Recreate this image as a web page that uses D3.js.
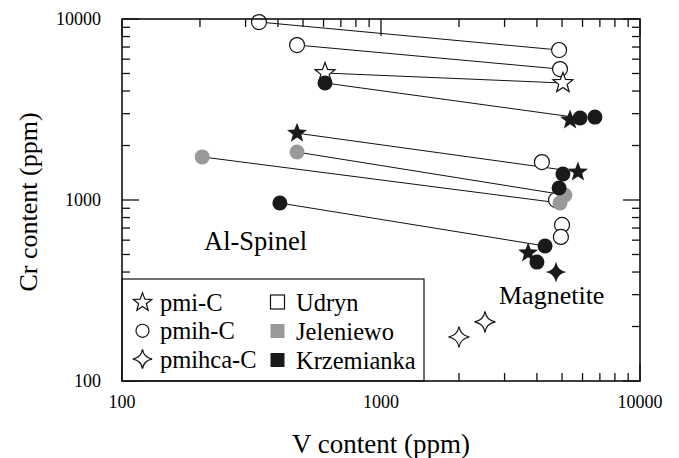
<!DOCTYPE html>
<html lang="en">
<head>
<meta charset="UTF-8">
<title>Cr vs V</title>
<script src="https://d3js.org/d3.v7.min.js"></script>
<style>
  body { margin: 0; background: white; }
  svg { display: block; font-family: "Liberation Serif", "Times New Roman", serif; }
</style>
</head>
<body>
<svg id="chart" width="679" height="458"></svg>
<script>
// V (ppm), Cr (ppm) pairs
const udrynCircles = [[338, 9620], [474, 7180], [4870, 6740], [4910, 5290],
                      [4180, 1620], [4740, 1000], [5000, 728], [4950, 625]];
const udrynStars = [[608, 5030], [5040, 4430]];
const udrynDiamonds = [[2520, 212], [2000, 175]];
const jeleniewoCircles = [[474, 1840], [204, 1730], [5130, 1066], [4910, 962]];
const krzemCircles = [[608, 4430], [5870, 2840], [6700, 2870], [5040, 1393],
                      [4870, 1165], [407, 962], [4300, 557], [4000, 454]];
const krzemStars = [[474, 2340], [5370, 2770], [5760, 1428], [3700, 510]];
const krzemDiamonds = [[4740, 400]];

// tie lines: [V1, Cr1, V2, Cr2]
const tieLines = [
  [338, 9620, 4870, 6740],
  [474, 7180, 4910, 5290],
  [608, 5030, 5040, 4430],
  [608, 4430, 5870, 2840],
  [474, 2340, 5760, 1428],
  [474, 1840, 5130, 1066],
  [204, 1730, 4910, 962],
  [407, 962, 4300, 557]
];

const xTickLabels = [100, 1000, 10000];
const yTickLabels = [100, 1000, 10000];
const shapeLegend = [["star", "pmi-C"], ["circle", "pmih-C"], ["diamond", "pmihca-C"]];
const siteLegend = [["Udryn", "#fff"], ["Jeleniewo", "#999"], ["Krzemianka", "#1a1a1a"]];

const svg = d3.select("#chart");
const margin = {left: 122, right: 39, top: 19, bottom: 77};
const W = 679, H = 458;

const x = d3.scaleLog().domain([100, 10000]).range([margin.left, W - margin.right]);
const y = d3.scaleLog().domain([100, 10000]).range([H - margin.bottom, margin.top]);

// marker shapes
function starPath(R) {
  const r = R * 0.42, pts = [];
  for (let i = 0; i < 10; i++) {
    const a = -Math.PI / 2 + i * Math.PI / 5, rr = i % 2 ? r : R;
    pts.push([rr * Math.cos(a), rr * Math.sin(a)]);
  }
  return "M" + pts.map(p => p[0].toFixed(2) + "," + p[1].toFixed(2)).join("L") + "Z";
}
function diamondPath(R) {
  const c = R * 0.14;
  return `M0,${-R}Q${c},${-c} ${R},0Q${c},${c} 0,${R}Q${-c},${c} ${-R},0Q${-c},${-c} 0,${-R}Z`;
}
function circlePath(r) {
  return d3.arc()({innerRadius: 0, outerRadius: r, startAngle: 0, endAngle: 2 * Math.PI});
}
const shapes = {
  star: s => starPath(10.5 * s),
  circle: s => circlePath(7.5 * s),
  diamond: s => diamondPath(10.5 * s)
};

// frame ticks
const g = svg.append("g");
const majors = [100, 1000, 10000];
const minors = [];
[100, 1000].forEach(d => { for (let k = 2; k <= 9; k++) minors.push(d * k); });

const tickLen = v => majors.includes(v) ? 17 : 8;
const y0 = y.range()[0], y1 = y.range()[1], x0 = x.range()[0], x1 = x.range()[1];

majors.concat(minors).forEach(v => {
  g.append("line").attr("x1", x(v)).attr("x2", x(v)).attr("y1", y0).attr("y2", y0 - tickLen(v));
  g.append("line").attr("x1", x(v)).attr("x2", x(v)).attr("y1", y1).attr("y2", y1 + tickLen(v));
  g.append("line").attr("y1", y(v)).attr("y2", y(v)).attr("x1", x0).attr("x2", x0 + tickLen(v));
  g.append("line").attr("y1", y(v)).attr("y2", y(v)).attr("x1", x1).attr("x2", x1 - tickLen(v));
});
g.selectAll("line").attr("stroke", "#111").attr("stroke-width", 1.3);

// tie lines
svg.append("g").selectAll("line").data(tieLines).join("line")
  .attr("x1", d => x(d[0])).attr("y1", d => y(d[1]))
  .attr("x2", d => x(d[2])).attr("y2", d => y(d[3]))
  .attr("stroke", "#111").attr("stroke-width", 1);

// data markers
function plot(data, shape, fill) {
  svg.append("g").selectAll("path").data(data).join("path")
    .attr("d", shapes[shape](1))
    .attr("transform", d => `translate(${x(d[0])},${y(d[1])})`)
    .attr("fill", fill)
    .attr("stroke", fill === "#fff" ? "#111" : "none")
    .attr("stroke-width", 1.2);
}
plot(udrynCircles, "circle", "#fff");
plot(udrynStars, "star", "#fff");
plot(udrynDiamonds, "diamond", "#fff");
plot(jeleniewoCircles, "circle", "#999");
plot(krzemCircles, "circle", "#1a1a1a");
plot(krzemStars, "star", "#1a1a1a");
plot(krzemDiamonds, "diamond", "#1a1a1a");

// legend box
const lg = svg.append("g");
lg.append("rect").attr("x", x0).attr("y", 279).attr("width", 424 - x0).attr("height", y0 - 279)
  .attr("fill", "#fff").attr("stroke", "#111").attr("stroke-width", 1.2);
shapeLegend.forEach((d, i) => {
  const cy = 302.5 + i * 28.3;
  lg.append("path").attr("d", shapes[d[0]](d[0] === "circle" ? 0.87 : 0.92))
    .attr("transform", `translate(142.5,${cy})`)
    .attr("fill", "#fff").attr("stroke", "#111").attr("stroke-width", 1.2);
  lg.append("text").attr("x", 160).attr("y", cy).attr("dy", "0.35em")
    .attr("font-size", 24.5).text(d[1]);
});
siteLegend.forEach((d, i) => {
  const cy = 302 + i * 29;
  lg.append("rect").attr("x", 270.5).attr("y", cy - 7).attr("width", 14).attr("height", 14)
    .attr("fill", d[1]).attr("stroke", d[1] === "#fff" ? "#111" : "none").attr("stroke-width", 1.2);
  lg.append("text").attr("x", 296).attr("y", cy).attr("dy", "0.35em")
    .attr("font-size", 24.5).text(d[0]);
});

// frame
svg.append("rect").attr("x", x0).attr("y", y1).attr("width", x1 - x0).attr("height", y0 - y1)
  .attr("fill", "none").attr("stroke", "#111").attr("stroke-width", 1.6);

// tick labels
svg.append("g").selectAll("text").data(xTickLabels).join("text")
  .attr("x", d => x(d)).attr("y", 408).attr("text-anchor", "middle")
  .attr("font-size", 18).text(d => d);
svg.append("g").selectAll("text").data(yTickLabels).join("text")
  .attr("x", 101).attr("y", d => y(d)).attr("dy", "0.35em").attr("text-anchor", "end")
  .attr("font-size", 18).text(d => d);

// axis titles
svg.append("text").attr("x", x(1000)).attr("y", 453).attr("text-anchor", "middle")
  .attr("font-size", 27).text("V content (ppm)");
svg.append("text").attr("transform", `translate(37,202) rotate(-90)`)
  .attr("text-anchor", "middle").attr("font-size", 26).text("Cr content (ppm)");

// field labels
svg.append("text").attr("x", 204).attr("y", 250).attr("font-size", 26.5).text("Al-Spinel");
svg.append("text").attr("x", 499).attr("y", 304).attr("font-size", 26).text("Magnetite");
</script>
</body>
</html>
